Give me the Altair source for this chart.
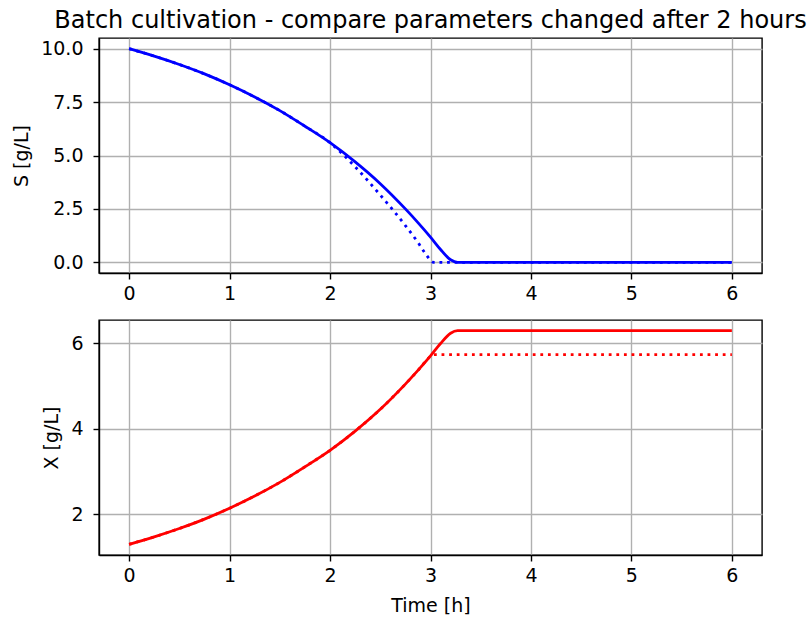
import altair as alt
import pandas as pd

# Batch cultivation: reference run (solid) and run with parameters changed at t = 2 h (dotted)
t_ref = [0.0, 0.25, 0.5, 0.75, 1.0, 1.25, 1.5, 1.75, 2.0, 2.25, 2.5, 2.75, 2.875, 3.0, 3.1, 3.2, 3.27, 6.0]
S_ref = [10.0, 9.65, 9.26, 8.82, 8.31, 7.74, 7.10, 6.37, 5.60, 4.70, 3.68, 2.50, 1.86, 1.18, 0.60, 0.12, 0.0, 0.0]
X_ref = [1.30, 1.475, 1.67, 1.89, 2.145, 2.43, 2.75, 3.115, 3.50, 3.95, 4.46, 5.05, 5.37, 5.71, 6.00, 6.24, 6.30, 6.30]

t_chg = [0.0, 0.25, 0.5, 0.75, 1.0, 1.25, 1.5, 1.75, 2.0, 2.25, 2.5, 2.75, 2.875, 2.95, 3.0, 3.03, 6.0]
S_chg = [10.0, 9.65, 9.26, 8.82, 8.31, 7.74, 7.10, 6.37, 5.60, 4.47, 3.15, 1.72, 0.93, 0.40, 0.10, 0.0, 0.0]
X_chg = [1.30, 1.475, 1.67, 1.89, 2.145, 2.43, 2.75, 3.115, 3.50, 3.95, 4.46, 5.05, 5.37, 5.58, 5.70, 5.74, 5.74]

time_ticks = [0, 1, 2, 3, 4, 5, 6]
S_ticks = [0.0, 2.5, 5.0, 7.5, 10.0]
X_ticks = [2, 4, 6]

ref = pd.DataFrame({"t": t_ref, "S": S_ref, "X": X_ref})
chg = pd.DataFrame({"t": t_chg, "S": S_chg, "X": X_chg})

FONT = "DejaVu Sans"
W, H = 663, 235
LW = 2.8
DOTS = [2.8, 4.8]

x_dom = alt.Scale(domain=[-0.3, 6.3], nice=False, zero=False)


def x_enc(title):
    return alt.X(
        "t:Q",
        scale=x_dom,
        axis=alt.Axis(values=time_ticks, format="d", title=title),
    )


def panel(var, color, y_scale, y_ticks, y_fmt, y_title, x_title):
    y = alt.Y(
        f"{var}:Q",
        scale=y_scale,
        axis=alt.Axis(values=y_ticks, format=y_fmt, title=y_title),
    )
    # changed-parameter run underneath, reference run on top
    dotted = alt.Chart(chg).mark_line(
        color=color, strokeWidth=LW, strokeDash=DOTS, strokeCap="butt",
        interpolate="monotone", clip=True
    ).encode(x=x_enc(x_title), y=y)
    solid = alt.Chart(ref).mark_line(
        color=color, strokeWidth=LW, interpolate="monotone", clip=True
    ).encode(x=x_enc(x_title), y=y)
    return alt.layer(dotted, solid).properties(width=W, height=H)


top = panel(
    "S", "#0000ff",
    alt.Scale(domain=[-0.5, 10.5], nice=False, zero=False),
    S_ticks, ".1f", "S [g/L]", None,
).properties(
    title=alt.TitleParams(
        "Batch cultivation - compare parameters changed after 2 hours",
        anchor="middle", frame="group", fontSize=24, font=FONT,
        fontWeight="normal", color="#000000", offset=5,
    )
)

bottom = panel(
    "X", "#ff0000",
    alt.Scale(domain=[1.05, 6.55], nice=False, zero=False),
    X_ticks, "d", "X [g/L]", "Time [h]",
)

chart = alt.vconcat(top, bottom, spacing=15).properties(
    padding={"left": 11, "top": 8, "right": 0, "bottom": 3},
    background="#ffffff",
).configure_view(
    stroke="#000000", strokeWidth=1.4
).configure_axis(
    labelFont=FONT, labelFontSize=19, labelColor="#000000",
    titleFont=FONT, titleFontSize=19, titleColor="#000000", titleFontWeight="normal",
    domainColor="#000000", domainWidth=1.4,
    tickColor="#000000", tickWidth=1.4, tickSize=6,
    gridColor="#b0b0b0", gridWidth=1.4, titlePadding=9,
    labelFlush=False, labelOverlap=False,
).configure_axisX(
    labelPadding=5, titlePadding=11
).configure_axisY(
    labelPadding=10
)

chart.save("out.html", embed_options={"renderer": "svg", "actions": False})
